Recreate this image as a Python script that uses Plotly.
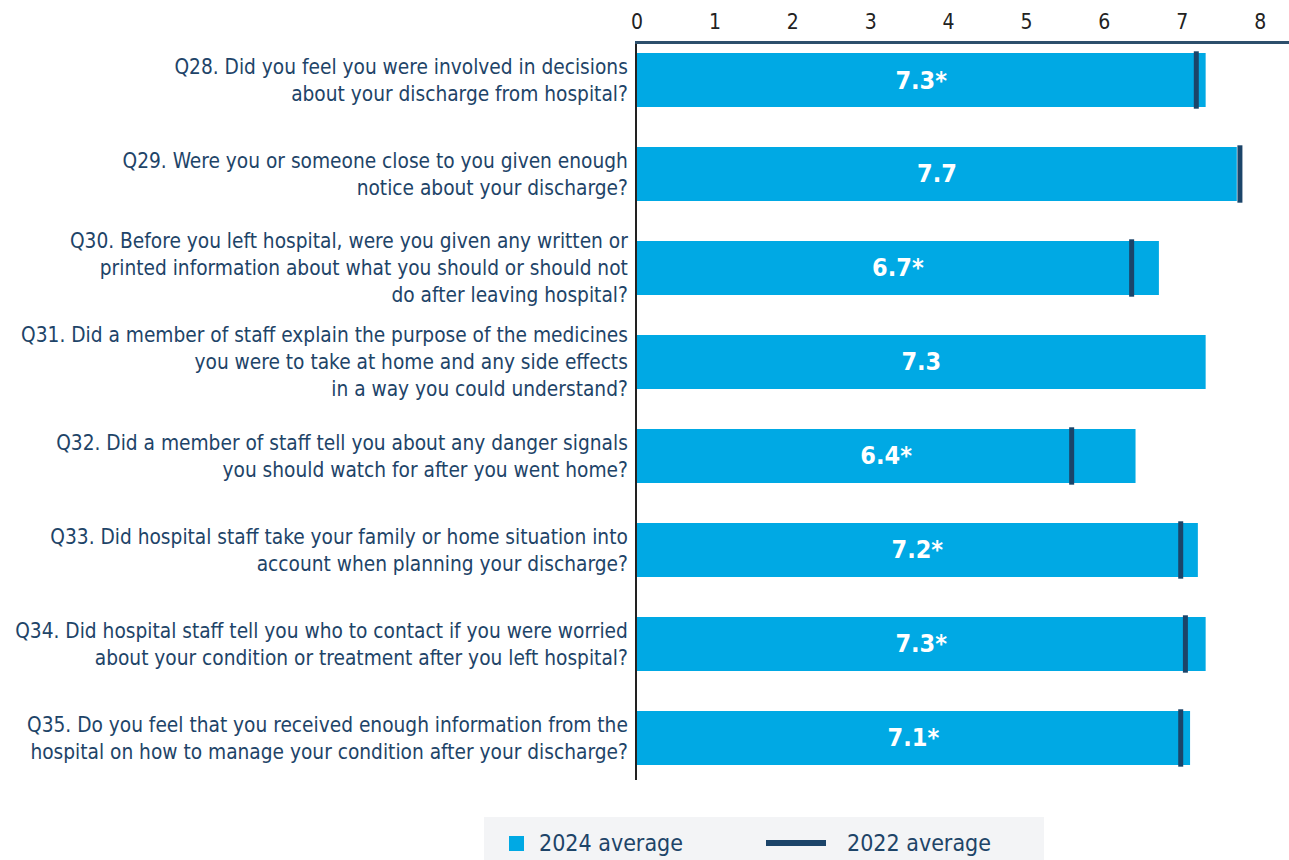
import plotly.graph_objects as go

# Survey questions (discharge section) and scores out of 10
questions = [
    "Q28. Did you feel you were involved in decisions<br>about your discharge from hospital?",
    "Q29. Were you or someone close to you given enough<br>notice about your discharge?",
    "Q30. Before you left hospital, were you given any written or<br>printed information about what you should or should not<br>do after leaving hospital?",
    "Q31. Did a member of staff explain the purpose of the medicines<br>you were to take at home and any side effects<br>in a way you could understand?",
    "Q32. Did a member of staff tell you about any danger signals<br>you should watch for after you went home?",
    "Q33. Did hospital staff take your family or home situation into<br>account when planning your discharge?",
    "Q34. Did hospital staff tell you who to contact if you were worried<br>about your condition or treatment after you left hospital?",
    "Q35. Do you feel that you received enough information from the<br>hospital on how to manage your condition after your discharge?",
]
avg_2024 = [7.3, 7.7, 6.7, 7.3, 6.4, 7.2, 7.3, 7.1]
avg_2022 = [7.18, 7.74, 6.35, None, 5.58, 6.98, 7.04, 6.98]
significant = [True, False, True, False, True, True, True, True]
x_ticks = [0, 1, 2, 3, 4, 5, 6, 7, 8]

BAR = "#00a9e4"
NAVY = "#1b4469"
TEXT = "#1e4468"
FONT = "Liberation Sans Narrow, DejaVu Sans Condensed, Roboto Condensed, Arial Narrow, sans-serif"

W, H = 1289, 860
M_L, M_R, M_T, M_B = 637, 0, 44, 80

bar_text = [f"{v:.1f}" + ("*" if s else "") for v, s in zip(avg_2024, significant)]

fig = go.Figure()
fig.add_trace(go.Bar(
    y=questions, x=avg_2024, orientation="h",
    marker=dict(color=BAR, line=dict(width=0)),
    text=bar_text, textposition="inside", insidetextanchor="middle",
    textfont=dict(family=FONT, size=25, color="white", weight="bold"),
    width=0.575, name="2024 average", showlegend=False,
    hoverinfo="x+y",
))
fig.add_trace(go.Scatter(
    y=questions, x=avg_2022, mode="markers",
    marker=dict(symbol="line-ns", size=41, color=NAVY,
                line=dict(width=5, color=NAVY)),
    name="2022 average", showlegend=False,
))

n = len(questions)
fig.update_layout(
    width=W, height=H,
    margin=dict(l=M_L, r=M_R, t=M_T, b=M_B),
    paper_bgcolor="white", plot_bgcolor="white",
    font=dict(family=FONT, color=TEXT),
    xaxis=dict(
        side="top", range=[0, 8.37], tickvals=x_ticks,
        ticktext=[str(t) for t in x_ticks],
        showgrid=False, zeroline=False,
        showline=True, linecolor="#2d4f6c", linewidth=3,
        ticks="", tickfont=dict(family=FONT, size=21, color="#222222"),
        ticklabelstandoff=4,
    ),
    yaxis=dict(
        categoryorder="array", categoryarray=questions,
        range=[n - 1 + 0.447, -0.383],
        showgrid=False, zeroline=False,
        showline=True, linecolor="#222222", linewidth=2,
        ticks="", ticklabelstandoff=3,
        tickfont=dict(family=FONT, size=20.7, color=TEXT),
    ),
)

# Legend drawn below the plot on a light grey panel
pw = W - M_L - M_R
ph = H - M_T - M_B


def px(xp):
    return (xp - M_L) / pw


def py(yp):
    return 1 - (yp - M_T) / ph


fig.add_shape(type="rect", xref="paper", yref="paper",
              x0=px(484), x1=px(1044), y0=py(817), y1=py(866),
              fillcolor="#f3f4f6", line=dict(width=0), layer="below")
fig.add_shape(type="rect", xref="paper", yref="paper",
              x0=px(509), x1=px(524), y0=py(836), y1=py(851),
              fillcolor=BAR, line=dict(width=0))
fig.add_shape(type="line", xref="paper", yref="paper",
              x0=px(766), x1=px(826), y0=py(843), y1=py(843),
              line=dict(color=NAVY, width=6))
fig.add_annotation(xref="paper", yref="paper", x=px(537), y=py(843),
                   text="2024 average", showarrow=False, xanchor="left",
                   yanchor="middle", font=dict(family=FONT, size=23, color=TEXT))
fig.add_annotation(xref="paper", yref="paper", x=px(845), y=py(843),
                   text="2022 average", showarrow=False, xanchor="left",
                   yanchor="middle", font=dict(family=FONT, size=23, color=TEXT))

fig.write_html("out.html")
